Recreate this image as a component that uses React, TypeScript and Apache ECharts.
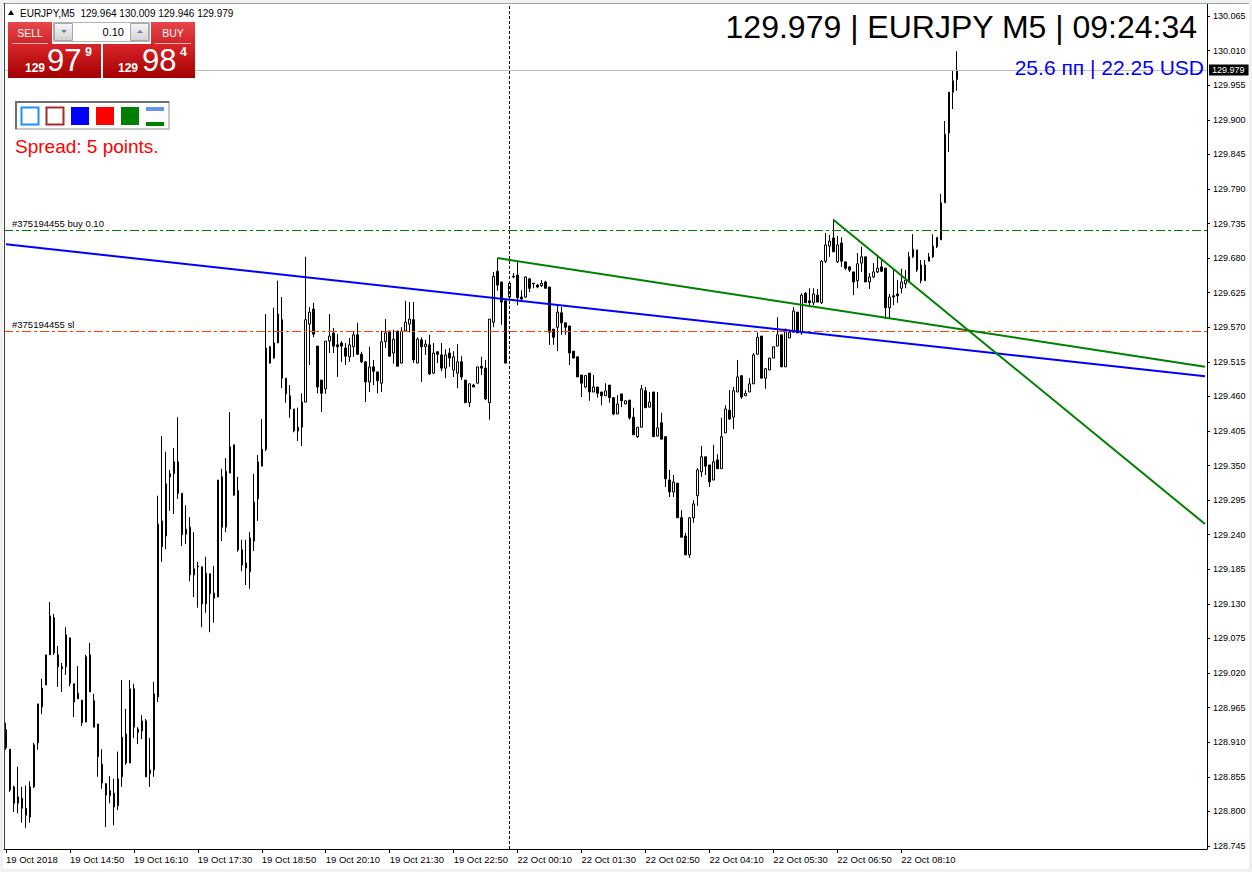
import React, { useEffect, useRef } from "react";
import * as echarts from "echarts";

// ---- candle values (EURJPY M5), one entry per bar ----
const OPEN = [
  128.930, 128.899, 128.839, 128.813, 128.821, 128.805, 128.791, 128.839, 128.909, 128.966,
  129.001, 129.049, 129.108, 129.049, 129.030, 129.030, 129.076, 129.003, 128.988, 128.977,
  128.942, 129.049, 128.976, 128.939, 128.875, 128.844, 128.825, 128.829, 128.809, 128.855,
  128.923, 128.877, 128.995, 128.931, 128.928, 128.944, 128.860, 128.866, 128.982, 129.262,
  129.238, 129.332, 129.337, 129.356, 129.306, 129.241, 129.252, 129.176, 129.190, 129.189,
  129.130, 129.178, 129.147, 129.141, 129.332, 129.252, 129.338, 129.383, 129.310, 129.216,
  129.195, 129.181, 129.230, 129.297, 129.349, 129.376, 129.539, 129.521, 129.545, 129.582,
  129.489, 129.461, 129.440, 129.405, 129.411, 129.451, 129.575, 129.599, 129.540, 129.486,
  129.472, 129.548, 129.561, 129.542, 129.545, 129.537, 129.523, 129.539, 129.558, 129.527,
  129.515, 129.483, 129.507, 129.499, 129.481, 129.547, 129.564, 129.529, 129.564, 129.513,
  129.564, 129.575, 129.582, 129.513, 129.550, 129.539, 129.542, 129.497, 129.531, 129.526,
  129.505, 129.529, 129.502, 129.497, 129.515, 129.486, 129.450, 129.478, 129.481, 129.508,
  129.505, 129.450, 129.578, 129.659, 129.642, 129.612, 129.618, 129.651, 129.653, 129.618,
  129.618, 129.647, 129.639, 129.637, 129.636, 129.642, 129.634, 129.567, 129.570, 129.593,
  129.577, 129.572, 129.532, 129.523, 129.494, 129.475, 129.497, 129.467, 129.475, 129.467,
  129.461, 129.478, 129.458, 129.432, 129.464, 129.448, 129.454, 129.427, 129.396, 129.411,
  129.469, 129.443, 129.467, 129.397, 129.418, 129.396, 129.327, 129.308, 129.322, 129.267,
  129.238, 129.208, 129.267, 129.302, 129.340, 129.364, 129.351, 129.327, 129.359, 129.345,
  129.402, 129.438, 129.427, 129.467, 129.493, 129.461, 129.467, 129.480, 129.527, 129.556,
  129.489, 129.502, 129.521, 129.540, 129.558, 129.507, 129.553, 129.562, 129.594, 129.561,
  129.624, 129.612, 129.609, 129.621, 129.609, 129.675, 129.699, 129.712, 129.674, 129.704,
  129.674, 129.666, 129.658, 129.644, 129.672, 129.682, 129.642, 129.650, 129.658, 129.666,
  129.664, 129.601, 129.620, 129.623, 129.632, 129.639, 129.642, 129.682, 129.693, 129.669,
  129.644, 129.675, 129.682, 129.698, 129.709, 129.768, 129.879, 129.944, 129.964,
];
const HIGH = [
  128.941, 128.899, 128.841, 128.871, 128.839, 128.841, 128.848, 128.909, 128.971, 129.011,
  129.049, 129.133, 129.114, 129.063, 129.036, 129.093, 129.076, 129.003, 129.031, 128.977,
  129.049, 129.068, 128.987, 128.939, 128.899, 128.845, 128.856, 128.852, 128.895, 129.009,
  128.963, 129.009, 129.003, 128.934, 128.953, 128.947, 128.917, 129.006, 129.302, 129.397,
  129.372, 129.343, 129.378, 129.427, 129.306, 129.287, 129.268, 129.244, 129.197, 129.189,
  129.205, 129.178, 129.190, 129.327, 129.345, 129.362, 129.435, 129.383, 129.332, 129.232,
  129.232, 129.244, 129.337, 129.367, 129.424, 129.591, 129.540, 129.601, 129.644, 129.618,
  129.489, 129.478, 129.440, 129.442, 129.465, 129.682, 129.602, 129.609, 129.540, 129.486,
  129.548, 129.591, 129.569, 129.559, 129.548, 129.545, 129.553, 129.564, 129.577, 129.531,
  129.515, 129.539, 129.518, 129.499, 129.564, 129.583, 129.564, 129.566, 129.564, 129.570,
  129.612, 129.610, 129.610, 129.554, 129.554, 129.550, 129.558, 129.545, 129.531, 129.545,
  129.535, 129.537, 129.532, 129.543, 129.524, 129.486, 129.480, 129.480, 129.507, 129.523,
  129.518, 129.583, 129.658, 129.680, 129.642, 129.612, 129.642, 129.656, 129.675, 129.629,
  129.651, 129.648, 129.640, 129.639, 129.645, 129.644, 129.634, 129.567, 129.604, 129.602,
  129.577, 129.572, 129.532, 129.523, 129.494, 129.494, 129.497, 129.494, 129.475, 129.467,
  129.481, 129.478, 129.458, 129.462, 129.464, 129.454, 129.454, 129.442, 129.411, 129.478,
  129.475, 129.467, 129.467, 129.467, 129.434, 129.396, 129.343, 129.335, 129.322, 129.279,
  129.243, 129.268, 129.295, 129.346, 129.381, 129.364, 129.351, 129.383, 129.368, 129.426,
  129.446, 129.470, 129.475, 129.518, 129.493, 129.470, 129.489, 129.529, 129.562, 129.556,
  129.505, 129.521, 129.539, 129.586, 129.558, 129.567, 129.566, 129.602, 129.594, 129.624,
  129.626, 129.632, 129.632, 129.631, 129.677, 129.720, 129.717, 129.742, 129.715, 129.713,
  129.674, 129.667, 129.658, 129.688, 129.698, 129.682, 129.656, 129.672, 129.685, 129.677,
  129.664, 129.623, 129.663, 129.645, 129.663, 129.661, 129.690, 129.718, 129.693, 129.677,
  129.677, 129.688, 129.718, 129.713, 129.782, 129.898, 129.944, 129.978, 130.009,
];
const LOW = [
  128.898, 128.831, 128.799, 128.797, 128.782, 128.774, 128.782, 128.837, 128.898, 128.955,
  129.001, 129.049, 129.049, 128.998, 128.990, 129.017, 128.999, 128.950, 128.979, 128.936,
  128.942, 128.990, 128.934, 128.855, 128.836, 128.775, 128.813, 128.778, 128.802, 128.839,
  128.874, 128.877, 128.917, 128.907, 128.915, 128.855, 128.839, 128.855, 128.974, 129.197,
  129.217, 129.278, 129.273, 129.297, 129.222, 129.225, 129.166, 129.141, 129.124, 129.093,
  129.116, 129.085, 129.100, 129.141, 129.230, 129.244, 129.338, 129.302, 129.213, 129.182,
  129.160, 129.154, 129.214, 129.262, 129.349, 129.373, 129.512, 129.520, 129.545, 129.473,
  129.450, 129.426, 129.403, 129.389, 129.381, 129.451, 129.510, 129.554, 129.465, 129.435,
  129.464, 129.529, 129.529, 129.491, 129.515, 129.510, 129.515, 129.523, 129.526, 129.513,
  129.451, 129.467, 129.478, 129.465, 129.467, 129.537, 129.524, 129.512, 129.508, 129.512,
  129.564, 129.562, 129.513, 129.513, 129.483, 129.526, 129.494, 129.496, 129.513, 129.500,
  129.489, 129.507, 129.491, 129.473, 129.486, 129.450, 129.443, 129.475, 129.481, 129.494,
  129.454, 129.423, 129.570, 129.628, 129.574, 129.513, 129.618, 129.648, 129.605, 129.613,
  129.617, 129.626, 129.632, 129.632, 129.634, 129.632, 129.542, 129.542, 129.532, 129.558,
  129.558, 129.510, 129.521, 129.491, 129.459, 129.473, 129.453, 129.467, 129.458, 129.446,
  129.461, 129.450, 129.430, 129.432, 129.443, 129.448, 129.423, 129.399, 129.394, 129.411,
  129.442, 129.442, 129.396, 129.396, 129.392, 129.316, 129.300, 129.300, 129.267, 129.236,
  129.208, 129.203, 129.259, 129.286, 129.332, 129.335, 129.316, 129.327, 129.345, 129.345,
  129.402, 129.423, 129.408, 129.467, 129.456, 129.461, 129.467, 129.480, 129.527, 129.489,
  129.472, 129.502, 129.521, 129.540, 129.507, 129.507, 129.553, 129.562, 129.561, 129.558,
  129.609, 129.602, 129.605, 129.610, 129.607, 129.672, 129.682, 129.690, 129.672, 129.666,
  129.661, 129.658, 129.621, 129.632, 129.658, 129.642, 129.631, 129.648, 129.656, 129.658,
  129.583, 129.583, 129.605, 129.609, 129.624, 129.632, 129.642, 129.680, 129.658, 129.640,
  129.644, 129.675, 129.680, 129.696, 129.709, 129.768, 129.849, 129.917, 129.946,
];
const CLOSE = [
  128.901, 128.834, 128.813, 128.823, 128.805, 128.794, 128.839, 128.906, 128.971, 128.996,
  129.049, 129.111, 129.052, 129.030, 129.027, 129.081, 129.004, 128.974, 128.979, 128.941,
  129.046, 128.990, 128.934, 128.887, 128.845, 128.826, 128.833, 128.807, 128.852, 128.918,
  128.877, 128.995, 128.934, 128.926, 128.944, 128.855, 128.866, 128.987, 129.257, 129.221,
  129.321, 129.337, 129.356, 129.306, 129.240, 129.249, 129.176, 129.186, 129.189, 129.130,
  129.179, 129.146, 129.139, 129.327, 129.252, 129.341, 129.380, 129.303, 129.216, 129.192,
  129.187, 129.235, 129.292, 129.356, 129.376, 129.537, 129.513, 129.545, 129.591, 129.489,
  129.464, 129.440, 129.405, 129.411, 129.451, 129.582, 129.594, 129.559, 129.475, 129.465,
  129.548, 129.556, 129.540, 129.539, 129.540, 129.524, 129.542, 129.558, 129.527, 129.515,
  129.483, 129.507, 129.500, 129.485, 129.547, 129.561, 129.524, 129.551, 129.508, 129.564,
  129.578, 129.583, 129.518, 129.551, 129.539, 129.543, 129.496, 129.529, 129.527, 129.505,
  129.526, 129.521, 129.523, 129.515, 129.491, 129.450, 129.480, 129.475, 129.507, 129.505,
  129.456, 129.583, 129.651, 129.637, 129.610, 129.513, 129.640, 129.650, 129.617, 129.615,
  129.650, 129.632, 129.640, 129.634, 129.640, 129.632, 129.562, 129.554, 129.594, 129.577,
  129.570, 129.529, 129.521, 129.491, 129.481, 129.493, 129.467, 129.475, 129.465, 129.461,
  129.469, 129.458, 129.432, 129.448, 129.453, 129.453, 129.426, 129.399, 129.411, 129.472,
  129.442, 129.451, 129.396, 129.410, 129.392, 129.329, 129.308, 129.324, 129.267, 129.236,
  129.208, 129.267, 129.289, 129.343, 129.364, 129.349, 129.324, 129.356, 129.345, 129.396,
  129.440, 129.424, 129.469, 129.491, 129.459, 129.465, 129.480, 129.526, 129.554, 129.489,
  129.504, 129.521, 129.539, 129.558, 129.507, 129.567, 129.562, 129.596, 129.561, 129.621,
  129.609, 129.609, 129.623, 129.610, 129.675, 129.701, 129.707, 129.690, 129.701, 129.675,
  129.664, 129.661, 129.642, 129.671, 129.682, 129.642, 129.650, 129.658, 129.664, 129.659,
  129.601, 129.618, 129.618, 129.620, 129.642, 129.645, 129.682, 129.694, 129.661, 129.644,
  129.669, 129.682, 129.699, 129.713, 129.768, 129.877, 129.944, 129.962, 129.979,
];

// ---- axis ticks / labels ----
const PRICE_TICKS = [
  128.745, 128.8, 128.855, 128.91, 128.965, 129.02, 129.075, 129.13, 129.185, 129.24,
  129.295, 129.35, 129.405, 129.46, 129.515, 129.57, 129.625, 129.68, 129.735, 129.79,
  129.845, 129.9, 129.955, 130.01, 130.065,
];
const TIME_LABELS = [
  "19 Oct 2018", "19 Oct 14:50", "19 Oct 16:10", "19 Oct 17:30", "19 Oct 18:50",
  "19 Oct 20:10", "19 Oct 21:30", "19 Oct 22:50", "22 Oct 00:10", "22 Oct 01:30",
  "22 Oct 02:50", "22 Oct 04:10", "22 Oct 05:30", "22 Oct 06:50", "22 Oct 08:10",
];
const LABEL_STEP = 16; // bars between time labels (80 min)
const SLOT_COUNT = 301; // bars + chart shift space
const FRIDAY_BARS = 126; // bars on 19 Oct (13:30..23:55)

// ---- price levels & drawn objects ----
const BID = 129.979;
const ORDER_OPEN = 129.724;
const ORDER_SL = 129.563;
const SEPARATOR_BAR = 126;
const BLUE_LINE = [[0, 129.702], [300, 129.492]];
const GREEN_LINE_1 = [[123, 129.68], [300, 129.507]];
const GREEN_LINE_2 = [[207, 129.741], [300, 129.257]];
const Y_MIN = 128.7402;
const Y_MAX = 130.0841;

const pad = (n: number) => String(n).padStart(2, "0");
const CATEGORIES: string[] = [];
for (let i = 0; i < SLOT_COUNT; i++) {
  const fri = i < FRIDAY_BARS;
  const mins = fri ? 13 * 60 + 30 + 5 * i : 5 * (i - FRIDAY_BARS);
  CATEGORIES.push(`${fri ? 19 : 22} Oct ${pad(Math.floor(mins / 60) % 24)}:${pad(mins % 60)}`);
}

const FONT = '"Liberation Sans", Arial, sans-serif';

export default function App() {
  const ref = useRef<HTMLDivElement>(null);
  useEffect(() => {
    if (!ref.current) return;
    const chart = echarts.init(ref.current, undefined, { renderer: "svg" });
    const candles = OPEN.map((o, i) => [o, CLOSE[i], LOW[i], HIGH[i]]);
    const showAt = (i: number) => i % LABEL_STEP === 0 && i / LABEL_STEP < TIME_LABELS.length;
    const grad = (a: string, b: string) =>
      new echarts.graphic.LinearGradient(0, 0, 0, 1, [
        { offset: 0, color: a },
        { offset: 1, color: b },
      ]);
    const btnGrad = () => grad("#f6f6f6", "#d2d2d2");
    const trend = (pts: number[][], color: string) => [
      { coord: pts[0], lineStyle: { color, width: 2, type: "solid" } },
      { coord: pts[1], lineStyle: { color, width: 2, type: "solid" } },
    ];
    const levelSeries = (item: any, lineStyle: any, label: any) => ({
      type: "line",
      data: [],
      silent: true,
      z: 3,
      color: lineStyle.color,
      markLine: {
        silent: true,
        precision: 3,
        symbol: ["none", "none"],
        animation: false,
        lineStyle,
        label,
        emphasis: { disabled: true },
        data: [{ ...item, lineStyle }],
      },
    });
    const orderLabel = (text: string) => ({
      show: true,
      position: "insideStartTop",
      formatter: text,
      distance: [8, 2],
      color: "#000",
      fontSize: 9.5,
      fontFamily: FONT,
    });
    const txt = (x: number, y: number, text: string, size: number, fill: string, align = "left", weight = "normal") => ({
      type: "text",
      x,
      y,
      z: 110,
      style: { text, fill, fontSize: size, fontFamily: FONT, fontWeight: weight, align, verticalAlign: "middle" },
    });

    const option: any = {
      animation: false,
      backgroundColor: "#f0f0f0",
      textStyle: { fontFamily: FONT },
      grid: { left: 4, right: 45, top: 4, bottom: 23, containLabel: false },
      xAxis: {
        type: "category",
        data: CATEGORIES,
        boundaryGap: true,
        axisLine: { show: true, lineStyle: { color: "#000", width: 1 } },
        axisTick: {
          show: true,
          alignWithLabel: true,
          length: 4,
          interval: (i: number) => showAt(i),
          lineStyle: { color: "#000" },
        },
        axisLabel: {
          show: true,
          interval: (i: number) => showAt(i),
          formatter: (_v: string, i: number) => TIME_LABELS[i / LABEL_STEP] ?? "",
          align: "left",
          margin: 5,
          fontSize: 9.5,
          color: "#000",
          fontFamily: FONT,
        },
        splitLine: { show: false },
      },
      yAxis: {
        type: "value",
        position: "right",
        min: Y_MIN,
        max: Y_MAX,
        axisLine: { show: true, lineStyle: { color: "#000" } },
        axisTick: { show: true, length: 3, customValues: PRICE_TICKS, lineStyle: { color: "#000" } },
        axisLabel: {
          show: true,
          customValues: PRICE_TICKS,
          formatter: (v: number) => v.toFixed(3),
          margin: 6,
          fontSize: 9,
          color: "#000",
          fontFamily: FONT,
        },
        splitLine: { show: false },
      },
      series: [
        levelSeries(
          { yAxis: BID },
          { color: "#c0c0c0", width: 1, type: "solid" },
          {
            show: true,
            position: "end",
            formatter: BID.toFixed(3),
            distance: 2,
            backgroundColor: "#000",
            color: "#fff",
            padding: [1, 4, 1, 3],
            fontSize: 9,
            fontFamily: FONT,
          }
        ),
        levelSeries({ yAxis: ORDER_OPEN }, { color: "#008000", width: 1, type: [9, 3, 3, 3] }, orderLabel("#375194455 buy 0.10")),
        levelSeries({ yAxis: ORDER_SL }, { color: "#ff4500", width: 1, type: [9, 3, 3, 3] }, orderLabel("#375194455 sl")),
        levelSeries({ xAxis: CATEGORIES[SEPARATOR_BAR] }, { color: "#000", width: 1, type: [3, 2] }, { show: false }),
        {
          type: "candlestick",
          data: candles,
          barWidth: 2,
          z: 4,
          itemStyle: {
            color: "#ffffff",
            color0: "#000000",
            borderColor: "#000000",
            borderColor0: "#000000",
            borderColorDoji: "#000000",
            borderWidth: 1,
          },
          markLine: {
            silent: true,
            precision: 3,
            symbol: ["none", "none"],
            animation: false,
            label: { show: false },
            data: [trend(BLUE_LINE, "#0000ff"), trend(GREEN_LINE_1, "#008000"), trend(GREEN_LINE_2, "#008000")],
          },
        },
      ],
      graphic: {
        elements: [
          { type: "rect", z: -10, shape: { x: 3, y: 3, width: 1246, height: 866 }, style: { fill: "#ffffff" } },
          { type: "line", z: 50, shape: { x1: 3, y1: 3.5, x2: 1249, y2: 3.5 }, style: { stroke: "#a0a0a0", lineWidth: 1 } },
          { type: "line", z: 50, shape: { x1: 4.5, y1: 3, x2: 4.5, y2: 849 }, style: { stroke: "#404040", lineWidth: 1 } },
          // header
          { type: "polygon", z: 110, shape: { points: [[8, 15], [11, 10], [14, 15]] }, style: { fill: "#000" } },
          txt(20, 13, "EURJPY,M5  129.964 130.009 129.946 129.979", 10, "#000"),
          // trade panel
          { type: "rect", z: 100, shape: { x: 8, y: 22, width: 44, height: 23 }, style: { fill: grad("#e8474b", "#cf2227") } },
          { type: "rect", z: 100, shape: { x: 151, y: 22, width: 44, height: 23 }, style: { fill: grad("#e8474b", "#cf2227") } },
          { type: "rect", z: 100, shape: { x: 8, y: 44, width: 93, height: 34 }, style: { fill: grad("#d9252a", "#a30000") } },
          { type: "rect", z: 100, shape: { x: 103, y: 44, width: 92, height: 34 }, style: { fill: grad("#d9252a", "#a30000") } },
          { type: "line", z: 105, shape: { x1: 12, y1: 43.5, x2: 48, y2: 43.5 }, style: { stroke: "#f3b3b3", lineWidth: 1 } },
          { type: "line", z: 105, shape: { x1: 155, y1: 43.5, x2: 191, y2: 43.5 }, style: { stroke: "#f3b3b3", lineWidth: 1 } },
          { type: "rect", z: 100, shape: { x: 53.5, y: 22.5, width: 96, height: 19 }, style: { fill: "#ffffff", stroke: "#b4b4b4", lineWidth: 1 } },
          { type: "rect", z: 101, shape: { x: 54.5, y: 23.5, width: 18, height: 17 }, style: { fill: btnGrad(), stroke: "#a8a8a8", lineWidth: 1 } },
          { type: "rect", z: 101, shape: { x: 130.5, y: 23.5, width: 18, height: 17 }, style: { fill: btnGrad(), stroke: "#a8a8a8", lineWidth: 1 } },
          { type: "polygon", z: 102, shape: { points: [[61, 30], [67, 30], [64, 33]] }, style: { fill: "#6478aa" } },
          { type: "polygon", z: 102, shape: { points: [[137, 33], [143, 33], [140, 30]] }, style: { fill: "#6478aa" } },
          txt(124, 32, "0.10", 11, "#000", "right"),
          txt(30, 33, "SELL", 10.5, "#ffffff", "center"),
          txt(173, 33, "BUY", 10.5, "#ffffff", "center"),
          txt(25, 67.5, "129", 12, "#ffffff", "left", "bold"),
          txt(47, 60.5, "97", 31, "#ffffff"),
          txt(85, 52, "9", 12.5, "#ffffff", "left", "bold"),
          txt(118, 67.5, "129", 12, "#ffffff", "left", "bold"),
          txt(142, 60.5, "98", 31, "#ffffff"),
          txt(180, 52, "4", 12.5, "#ffffff", "left", "bold"),
          // object toolbox
          { type: "rect", z: 100, shape: { x: 16, y: 102, width: 153, height: 27 }, style: { fill: "#ffffff", stroke: "#c8c8c8", lineWidth: 2 } },
          { type: "polyline", z: 101, shape: { points: [[16, 129], [16, 102], [169, 102]] }, style: { stroke: "#6e6e6e", lineWidth: 2, fill: null } },
          { type: "rect", z: 102, shape: { x: 21.5, y: 107.5, width: 17, height: 17 }, style: { fill: "#ffffff", stroke: "#1e90ff", lineWidth: 2 } },
          { type: "rect", z: 102, shape: { x: 46.5, y: 107.5, width: 17, height: 17 }, style: { fill: "#ffffff", stroke: "#a52a2a", lineWidth: 2 } },
          { type: "rect", z: 102, shape: { x: 71, y: 107, width: 18, height: 18 }, style: { fill: "#0000ff" } },
          { type: "rect", z: 102, shape: { x: 96, y: 107, width: 18, height: 18 }, style: { fill: "#ff0000" } },
          { type: "rect", z: 102, shape: { x: 121, y: 107, width: 18, height: 18 }, style: { fill: "#008000" } },
          { type: "rect", z: 102, shape: { x: 146, y: 107, width: 18, height: 4 }, style: { fill: "#6495ed" } },
          { type: "rect", z: 102, shape: { x: 146, y: 122, width: 18, height: 4 }, style: { fill: "#008000" } },
          txt(15, 146, "Spread: 5 points.", 19, "#ff0000"),
          // top-right info
          txt(1197, 27, "129.979 | EURJPY M5 | 09:24:34", 32, "#000", "right"),
          txt(1204, 67, "25.6 пп | 22.25 USD", 21, "#0000ff", "right"),
        ],
      },
    };
    chart.setOption(option);
    return () => chart.dispose();
  }, []);
  return <div ref={ref} style={{ position: "absolute", left: 0, top: 0, width: 1252, height: 872 }} />;
}
